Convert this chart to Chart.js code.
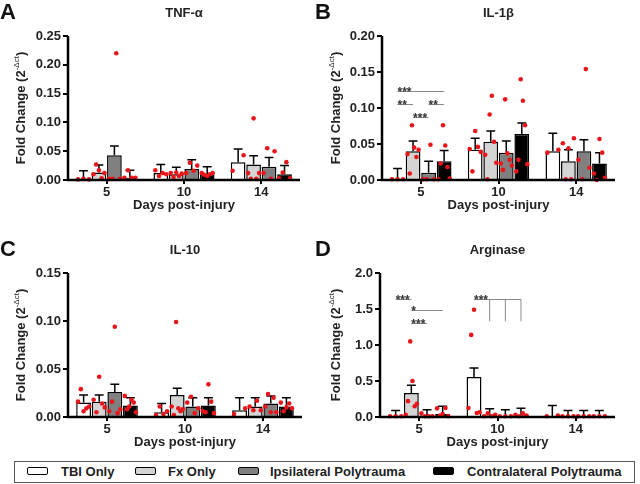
<!DOCTYPE html>
<html>
<head>
<meta charset="utf-8">
<script src="https://cdn.jsdelivr.net/npm/chart.js@4.4.0/dist/chart.umd.min.js"></script>
<style>
  body { margin: 0; width: 640px; height: 484px; background: #fff; position: relative; overflow: hidden; font-family: "Liberation Sans", Arial, sans-serif; }
  canvas { position: absolute; }
  #legenda { position: absolute; left: 14px; top: 461px; width: 619px; height: 20px; border: 1px solid #555; }
  .amostra { position: absolute; top: 5px; width: 19px; height: 6px; border: 1.5px solid #000; border-radius: 2px; }
  .rotulo { position: absolute; top: 2px; font-weight: bold; font-size: 13px; color: #222; white-space: nowrap; }
</style>
</head>
<body>
<canvas id="painelA" width="320" height="215" style="left:0;top:0"></canvas>
<canvas id="painelB" width="325" height="215" style="left:315px;top:0"></canvas>
<canvas id="painelC" width="320" height="215" style="left:0;top:237px"></canvas>
<canvas id="painelD" width="325" height="215" style="left:315px;top:237px"></canvas>
<div id="legenda"></div>
<script>
const dias = ['5', '10', '14'];
const grupos = ['TBI Only', 'Fx Only', 'Ipsilateral Polytrauma', 'Contralateral Polytrauma'];
const coresBarras = ['#ffffff', '#d4d4d4', '#808080', '#000000'];

// TNF-alpha (A) - media e SEM por grupo, em cada dia
const tnfMedia = [[0.002, 0.012, 0.031], [0.013, 0.010, 0.027], [0.043, 0.019, 0.023], [0.004, 0.010, 0.010]];
const tnfSem = [[0.014, 0.015, 0.023], [0.013, 0.012, 0.015], [0.016, 0.016, 0.016], [0.013, 0.013, 0.015]];
const tnfPontos = [
  [[0.001, 0.002, 0.001], [0.017, 0.007, 0.012, 0.010], [0.016, 0.043]],
  [[0.010, 0.027, 0.017, 0.003, 0.012], [0.012, 0.005, 0.013, 0.007, 0.011], [0.012, 0.002, 0.107, 0.002, 0.012]],
  [[0.002, 0.002, 0.220, 0.002], [0.012, 0.030, 0.016, 0.025], [0.012, 0.055, 0.002, 0.050]],
  [[0.004, 0.017, 0.004, 0.004], [0.012, 0.009, 0.007, 0.010, 0.012], [0.003, 0.013, 0.031, 0.003]]
];

// IL-1beta (B)
const il1Media = [[0.001, 0.042, 0.040], [0.040, 0.053, 0.026], [0.010, 0.038, 0.040], [0.026, 0.064, 0.023]];
const il1Sem = [[0.015, 0.016, 0.025], [0.014, 0.015, 0.016], [0.016, 0.016, 0.016], [0.015, 0.015, 0.015]];
const il1Pontos = [
  [[0.001, 0.001, 0.001], [0.043, 0.012, 0.068, 0.046, 0.039], [0.038, 0.042]],
  [[0.036, 0.009, 0.076, 0.045, 0.032, 0.042], [0.035, 0.001, 0.091, 0.117, 0.053, 0.024], [0.051, 0.001, 0.044, 0.001, 0.058]],
  [[0.001, 0.001, 0.049, 0.001], [0.023, 0.014, 0.112, 0.037, 0.028, 0.020], [0.028, 0.001, 0.154, 0.017]],
  [[0.001, 0.023, 0.076, 0.048, 0.018, 0.002], [0.012, 0.028, 0.140, 0.110, 0.076, 0.022], [0.009, 0.000, 0.057, 0.038, 0.003]]
];
// [dia, grupo A, grupo B, altura, rotulo]
const il1Comparacoes = [[0, 0, 3, 0.123, '***'], [0, 0, 1, 0.105, '**'], [0, 2, 3, 0.105, '**'], [0, 1, 2, 0.088, '***']];

// IL-10 (C)
const il10Media = [[0.015, 0.005, 0.007], [0.016, 0.023, 0.011], [0.026, 0.011, 0.014], [0.012, 0.012, 0.011]];
const il10Sem = [[0.008, 0.009, 0.013], [0.007, 0.007, 0.009], [0.008, 0.009, 0.008], [0.008, 0.008, 0.009]];
const il10Pontos = [
  [[0.016, 0.029, 0.006, 0.009, 0.011], [0.002, 0.011, 0.003, 0.006], [0.003, 0.009]],
  [[0.018, 0.005, 0.042, 0.014, 0.010], [0.011, 0.002, 0.099, 0.009, 0.006, 0.008], [0.011, 0.007, 0.017, 0.007]],
  [[0.006, 0.016, 0.094, 0.004, 0.008], [0.015, 0.021, 0.004, 0.009], [0.011, 0.024, 0.005, 0.020, 0.005]],
  [[0.022, 0.008, 0.011, 0.018, 0.015, 0.005], [0.006, 0.005, 0.034, 0.016, 0.004], [0.015, 0.006, 0.010, 0.014, 0.009]]
];

// Arginase (D)
const argMedia = [[0.01, 0.555, 0.003], [0.333, 0.02, 0.01], [0.02, 0.015, 0.01], [0.04, 0.025, 0.01]];
const argSem = [[0.08, 0.125, 0.157], [0.107, 0.095, 0.08], [0.08, 0.085, 0.08], [0.11, 0.095, 0.08]];
const argPontos = [
  [[0.01, 0.01, 0.01], [0.125, 1.14, 1.49, 0.055, 0.065], [0.01, 0.02]],
  [[0.03, 0.22, 1.05, 0.50, 0.15, 0.185], [0.01, 0.05, 0.01, 0.03], [0.01, 0.01, 0.01]],
  [[0.05, 0.01, 0.01, 0.01], [0.01, 0.01, 0.01], [0.01, 0.01, 0.01]],
  [[0.12, 0.02, 0.04, 0.125, 0.01], [0.03, 0.01, 0.05, 0.02], [0.01, 0.01, 0.01]]
];
// ultimo valor opcional: altura das linhas verticais (um contra varios)
const argComparacoes = [[0, 0, 1, 1.64, '***'], [0, 1, 3, 1.48, '*'], [0, 1, 2, 1.30, '***'], [1, 0, 3, 1.64, '***', 1.33]];

const fonte = '"Liberation Sans", Arial, sans-serif';

const pluginDetalhes = {
  id: 'detalhes',
  afterDatasetsDraw(chart, args, o) {
    const ctx = chart.ctx;
    const escalaY = chart.scales.y;
    ctx.save();
    // barras de erro (so para cima)
    chart.data.datasets.forEach((ds, g) => {
      chart.getDatasetMeta(g).data.forEach((barra, d) => {
        const base = escalaY.getPixelForValue(ds.data[d]);
        const topo = escalaY.getPixelForValue(ds.data[d] + o.sem[g][d]);
        const meia = barra.width * 0.3;
        ctx.strokeStyle = '#000';
        ctx.lineWidth = 1.5;
        ctx.beginPath();
        ctx.moveTo(barra.x, base);
        ctx.lineTo(barra.x, topo);
        ctx.moveTo(barra.x - meia, topo);
        ctx.lineTo(barra.x + meia, topo);
        ctx.stroke();
      });
    });
    // pontos individuais
    chart.data.datasets.forEach((ds, g) => {
      chart.getDatasetMeta(g).data.forEach((barra, d) => {
        const pts = o.pontos[g][d];
        const n = pts.length;
        pts.forEach((v, k) => {
          const dx = n > 1 ? (k / (n - 1) - 0.5) * barra.width * 0.75 : 0;
          ctx.fillStyle = '#e8161b';
          ctx.beginPath();
          ctx.arc(barra.x + dx, escalaY.getPixelForValue(v), 2.3, 0, Math.PI * 2);
          ctx.fill();
        });
      });
    });
    // comparacoes estatisticas
    (o.comparacoes || []).forEach(([dia, a, b, valor, rotulo, queda]) => {
      const xa = chart.getDatasetMeta(a).data[dia].x;
      const xb = chart.getDatasetMeta(b).data[dia].x;
      const yy = Math.round(escalaY.getPixelForValue(valor)) + 0.5;
      ctx.strokeStyle = '#8a8a8a';
      ctx.lineWidth = 1;
      ctx.beginPath();
      ctx.moveTo(xa, yy);
      ctx.lineTo(xb, yy);
      if (queda !== undefined) {
        for (let g = a + 1; g <= b; g++) {
          const xg = chart.getDatasetMeta(g).data[dia].x;
          ctx.moveTo(xg, yy);
          ctx.lineTo(xg, escalaY.getPixelForValue(queda));
        }
      }
      ctx.stroke();
      ctx.fillStyle = '#333';
      ctx.font = 'bold 12px ' + fonte;
      ctx.textAlign = 'left';
      ctx.textBaseline = 'alphabetic';
      ctx.fillText(rotulo, xa, yy + 4);
    });
    ctx.restore();
  },
  afterDraw(chart, args, o) {
    const ctx = chart.ctx;
    const area = chart.chartArea;
    ctx.save();
    // eixos
    ctx.strokeStyle = '#000';
    ctx.lineWidth = 2.5;
    ctx.beginPath();
    ctx.moveTo(area.left, area.top);
    ctx.lineTo(area.left, area.bottom);
    ctx.lineTo(area.right, area.bottom);
    ctx.stroke();

    ctx.fillStyle = '#111';
    ctx.font = 'bold 22px ' + fonte;
    ctx.textAlign = 'left';
    ctx.textBaseline = 'alphabetic';
    ctx.fillText(o.letra, 0, 19);

    ctx.fillStyle = '#222';
    ctx.font = 'bold 13px ' + fonte;
    ctx.textAlign = 'center';
    ctx.fillText(o.titulo, (area.left + area.right) / 2, 17);

    ctx.font = 'bold 13px ' + fonte;
    ctx.fillText('Days post-injury', (area.left + area.right) / 2, area.bottom + 29);

    // titulo do eixo y com expoente
    const principal = 'Fold Change (2';
    const expoente = '-\u0394ct';
    ctx.font = 'bold 13px ' + fonte;
    const w1 = ctx.measureText(principal).width;
    const w3 = ctx.measureText(')').width;
    ctx.font = '8px ' + fonte;
    const w2 = ctx.measureText(expoente).width;
    const total = w1 + w2 + w3;
    ctx.translate(25, (area.top + area.bottom) / 2);
    ctx.rotate(-Math.PI / 2);
    ctx.textAlign = 'left';
    ctx.font = 'bold 13px ' + fonte;
    ctx.fillText(principal, -total / 2, 0);
    ctx.font = '8px ' + fonte;
    ctx.fillText(expoente, -total / 2 + w1, -6);
    ctx.font = 'bold 13px ' + fonte;
    ctx.fillText(')', -total / 2 + w1 + w2, 0);
    ctx.restore();
  }
};

function criarPainel(id, letra, titulo, media, sem, pontos, maxY, casas, larguraY, direita, comparacoes) {
  new Chart(document.getElementById(id), {
    type: 'bar',
    data: {
      labels: dias,
      datasets: grupos.map((nome, g) => ({
        label: nome,
        data: media[g],
        backgroundColor: coresBarras[g],
        borderColor: '#000',
        borderWidth: 1.5,
        categoryPercentage: 0.8,
        barPercentage: 0.95
      }))
    },
    options: {
      responsive: false,
      animation: false,
      devicePixelRatio: 1,
      layout: { padding: { top: 36, right: direita, left: 0, bottom: 0 } },
      scales: {
        x: {
          grid: { drawOnChartArea: false, offset: false, tickLength: 4, color: '#000', lineWidth: 2 },
          border: { display: false },
          ticks: { color: '#222', padding: 1, font: { family: fonte, size: 13, weight: 'bold' } },
          afterFit: (s) => { s.height = 35; }
        },
        y: {
          min: 0,
          max: maxY,
          ticks: {
            stepSize: maxY / (maxY > 1 ? 4 : maxY / 0.05),
            color: '#222',
            padding: 2,
            font: { family: fonte, size: 13, weight: 'bold' },
            callback: (v) => Number(v).toFixed(casas)
          },
          grid: { drawOnChartArea: false, tickLength: 5, color: '#000', lineWidth: 2 },
          border: { display: false },
          afterFit: (s) => { s.width = larguraY; }
        }
      },
      plugins: {
        legend: { display: false },
        tooltip: { enabled: false },
        detalhes: { letra: letra, titulo: titulo, sem: sem, pontos: pontos, comparacoes: comparacoes }
      }
    },
    plugins: [pluginDetalhes]
  });
}

criarPainel('painelA', 'A', 'TNF-\u03b1', tnfMedia, tnfSem, tnfPontos, 0.25, 2, 68, 20);
criarPainel('painelB', 'B', 'IL-1\u03b2', il1Media, il1Sem, il1Pontos, 0.20, 2, 67, 25, il1Comparacoes);
criarPainel('painelC', 'C', 'IL-10', il10Media, il10Sem, il10Pontos, 0.15, 2, 68, 18);
criarPainel('painelD', 'D', 'Arginase', argMedia, argSem, argPontos, 2.0, 1, 65, 25, argComparacoes);

// legenda em HTML
const posLegenda = [[12, 46], [120, 153], [223, 255], [418, 452]];
const legenda = document.getElementById('legenda');
grupos.forEach((nome, g) => {
  const amostra = document.createElement('span');
  amostra.className = 'amostra';
  amostra.style.left = posLegenda[g][0] + 'px';
  amostra.style.background = coresBarras[g];
  const rotulo = document.createElement('span');
  rotulo.className = 'rotulo';
  rotulo.style.left = posLegenda[g][1] + 'px';
  rotulo.textContent = nome;
  legenda.appendChild(amostra);
  legenda.appendChild(rotulo);
});
</script>
</body>
</html>
